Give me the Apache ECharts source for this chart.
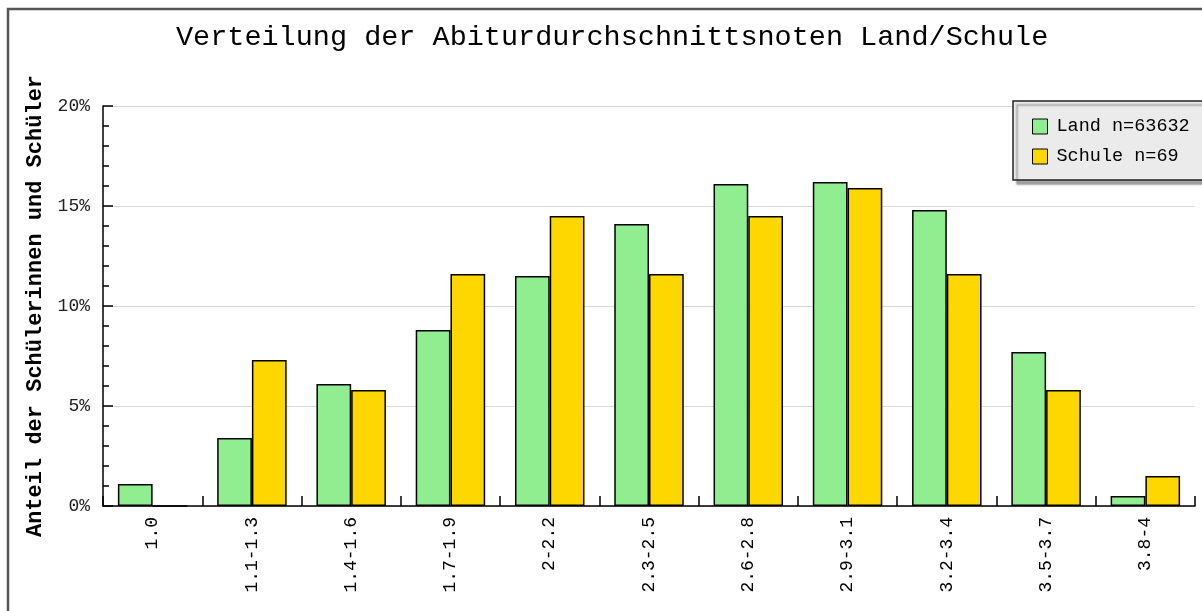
<!DOCTYPE html>
<html>
<head>
<meta charset="utf-8">
<script src="https://cdn.jsdelivr.net/npm/echarts@6/dist/echarts.min.js"></script>
<style>html,body{margin:0;padding:0;background:#fff;}#c{width:1202px;height:611px;}</style>
</head>
<body>
<div id="c"></div>
<script>
var categories = ['1.0','1.1-1.3','1.4-1.6','1.7-1.9','2-2.2','2.3-2.5','2.6-2.8','2.9-3.1','3.2-3.4','3.5-3.7','3.8-4'];
var landValues = [1.1, 3.4, 6.1, 8.8, 11.5, 14.1, 16.1, 16.2, 14.8, 7.7, 0.5];
var schuleValues = [0, 7.3, 5.8, 11.6, 14.5, 11.6, 14.5, 15.9, 11.6, 5.8, 1.5];
var seriesNames = ['Land n=63632', 'Schule n=69'];
var titleText = 'Verteilung der Abiturdurchschnittsnoten Land/Schule';
var yAxisTitle = 'Anteil der Schülerinnen und Schüler';

var mono = '"Liberation Mono", "DejaVu Sans Mono", monospace';
var chart = echarts.init(document.getElementById('c'), null, {renderer: 'canvas'});
chart.setOption({
  animation: false,
  backgroundColor: '#fff',
  graphic: [{
    type: 'rect', z: 100, silent: true,
    shape: {x: 8, y: 9, width: 1210, height: 620},
    style: {fill: 'none', stroke: '#555', lineWidth: 2.5}
  }],
  title: {
    text: titleText, left: 171, top: 18,
    textStyle: {fontFamily: mono, fontSize: 28.5, fontWeight: 'normal', color: '#000'}
  },
  legend: {
    orient: 'vertical', left: 1013, top: 101, width: 200,
    padding: [16, 30, 14, 19], itemGap: 11,
    backgroundColor: '#ebebeb', borderColor: '#222', borderWidth: 1.5,
    shadowColor: 'rgba(0,0,0,0.35)', shadowOffsetX: 4, shadowOffsetY: 4, shadowBlur: 2,
    itemWidth: 15, itemHeight: 15, icon: 'rect',
    itemStyle: {borderColor: '#000', borderWidth: 1},
    textStyle: {fontFamily: mono, fontSize: 18.5, color: '#000', padding: [0, 0, 0, 4]},
    data: seriesNames
  },
  grid: {left: 103, right: 7, top: 106, bottom: 105, containLabel: false},
  xAxis: {
    type: 'category', data: categories,
    axisLine: {lineStyle: {color: '#000', width: 1.5}},
    axisTick: {show: true, inside: true, length: 10, alignWithLabel: false, lineStyle: {color: '#000', width: 1.5}},
    axisLabel: {rotate: 90, margin: 11, fontFamily: mono, fontSize: 18, color: '#000', interval: 0}
  },
  yAxis: {
    type: 'value', min: 0, max: 20, interval: 5,
    name: yAxisTitle, nameLocation: 'middle', nameGap: 56,
    nameTextStyle: {fontFamily: mono, fontSize: 22, fontWeight: 'bold', color: '#000'},
    axisLine: {show: true, lineStyle: {color: '#000', width: 1.5}},
    axisTick: {show: true, inside: true, length: 10, lineStyle: {color: '#000', width: 1.5}},
    minorTick: {show: true, splitNumber: 5, length: 6, lineStyle: {color: '#000', width: 1.5}},
    splitLine: {show: true, lineStyle: {color: '#d9d9d9', width: 1}},
    axisLabel: {formatter: '{value}%', margin: 13, fontFamily: mono, fontSize: 18, color: '#222'}
  },
  series: [{
    name: seriesNames[0], type: 'bar', data: landValues,
    barGap: '0%', barCategoryGap: '30%',
    itemStyle: {color: '#90ee90', borderColor: '#000', borderWidth: 1.5}
  }, {
    name: seriesNames[1], type: 'bar', data: schuleValues,
    itemStyle: {color: '#ffd700', borderColor: '#000', borderWidth: 1.5}
  }]
});
</script>
</body>
</html>
